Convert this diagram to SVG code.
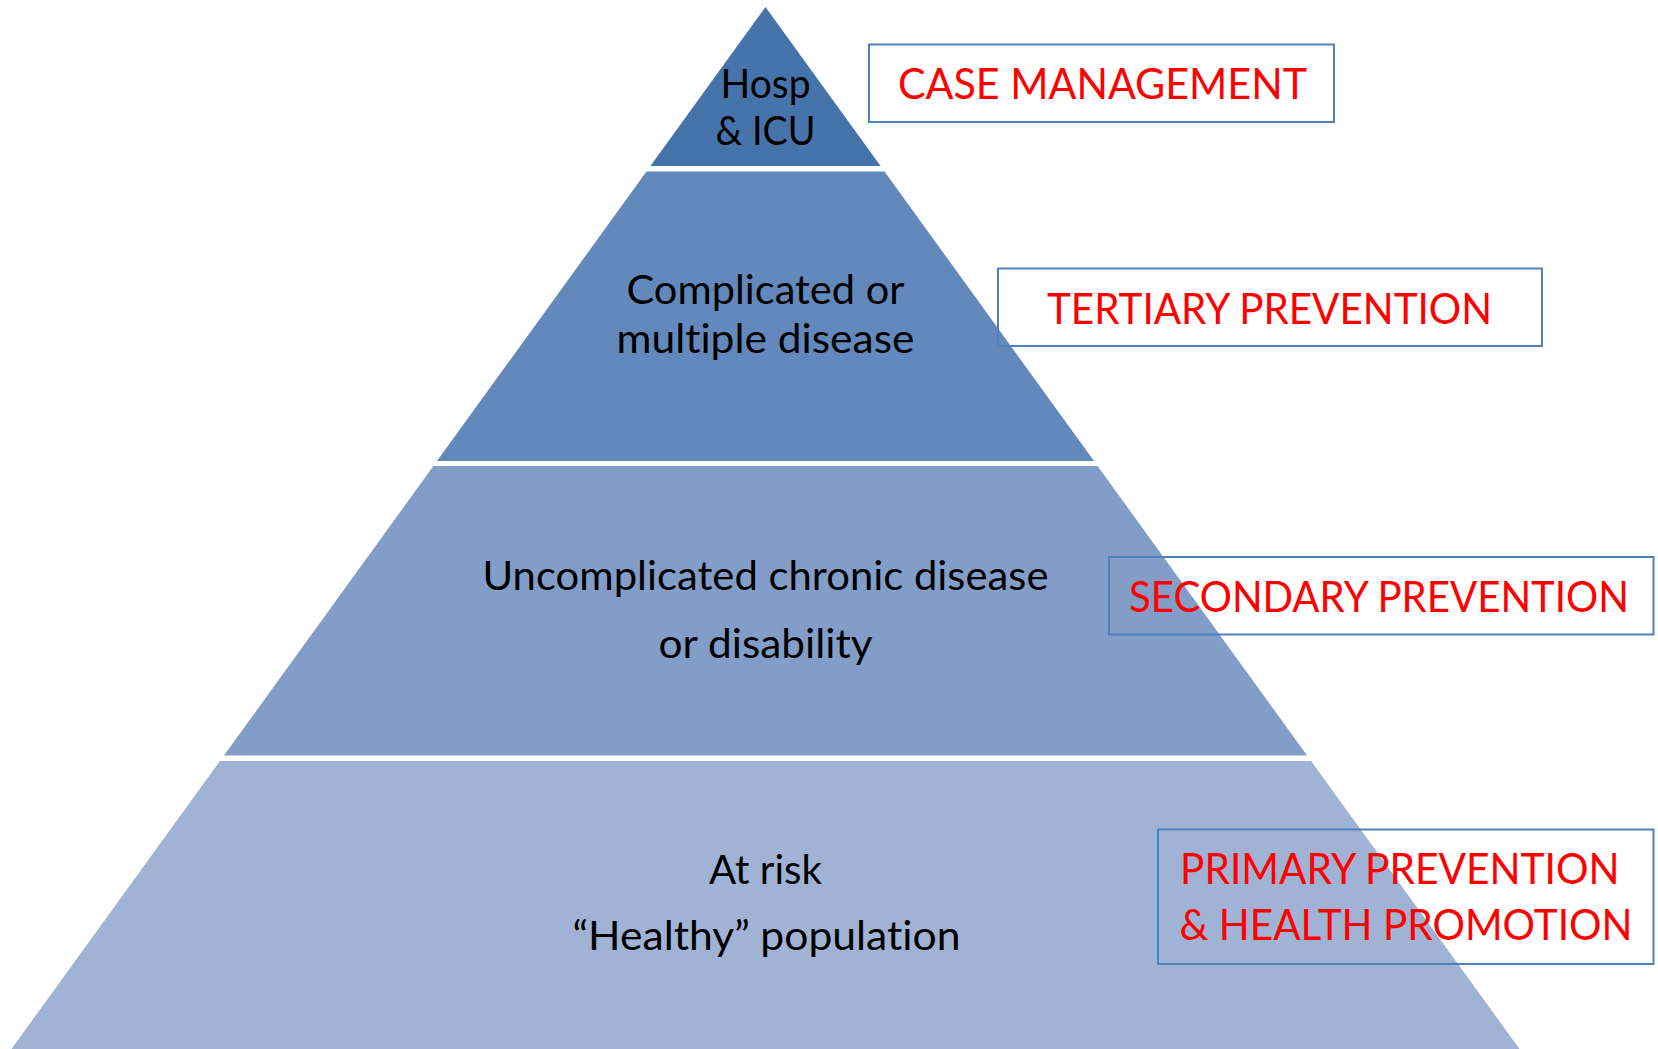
<svg xmlns="http://www.w3.org/2000/svg" width="1658" height="1049" viewBox="0 0 1658 1049">
  <style>
    text { font-variant-ligatures: none; }
    .tier-text { font-family: Lato, "Open Sans", "Liberation Sans", sans-serif; font-size: 41px; fill: #000000; text-anchor: middle; }
    .label-box { fill: none; stroke: #4F81BD; stroke-width: 2; }
    .label-text { font-family: Lato, "Open Sans", "Liberation Sans", sans-serif; font-size: 43px; fill: #FF0000; }
  </style>
  <rect x="0" y="0" width="1658" height="1049" fill="#FFFFFF"/>

  <!-- Pyramid tiers, apex at (765.5, 7), white gaps between levels -->
  <g id="tier-hosp-icu">
    <polygon points="765.5,7 880.6,166 650.4,166" fill="#4674AA"/>
    <text class="tier-text" x="765.5" y="97.5" textLength="90" lengthAdjust="spacingAndGlyphs">Hosp</text>
    <text class="tier-text" x="765.5" y="145" textLength="100" lengthAdjust="spacingAndGlyphs">&amp; ICU</text>
  </g>
  <g id="tier-complicated">
    <polygon points="646.5,171.5 884.5,171.5 1094,461 437,461" fill="#6388BB"/>
    <text class="tier-text" x="765.5" y="304" textLength="278" lengthAdjust="spacingAndGlyphs">Complicated or</text>
    <text class="tier-text" x="765.5" y="353" textLength="298" lengthAdjust="spacingAndGlyphs">multiple disease</text>
  </g>
  <g id="tier-uncomplicated">
    <polygon points="433.4,466 1097.6,466 1307.1,755.5 223.9,755.5" fill="#829DC7"/>
    <text class="tier-text" x="765.5" y="590" textLength="566" lengthAdjust="spacingAndGlyphs">Uncomplicated chronic disease</text>
    <text class="tier-text" x="765.5" y="658" textLength="214" lengthAdjust="spacingAndGlyphs">or disability</text>
  </g>
  <g id="tier-at-risk">
    <polygon points="219.9,761 1311.1,761 1521.7,1052 9.3,1052" fill="#A1B3D4"/>
    <text class="tier-text" x="765.5" y="883.5" textLength="113" lengthAdjust="spacingAndGlyphs">At risk</text>
    <text class="tier-text" x="766.5" y="950" textLength="388" lengthAdjust="spacingAndGlyphs">“Healthy” population</text>
  </g>

  <!-- Prevention level labels -->
  <g id="label-case-management">
    <rect class="label-box" x="869" y="44.5" width="465" height="77.5"/>
    <text class="label-text" x="898" y="99" textLength="409" lengthAdjust="spacingAndGlyphs">CASE MANAGEMENT</text>
  </g>
  <g id="label-tertiary">
    <rect class="label-box" x="998" y="268.5" width="544" height="77.5"/>
    <text class="label-text" x="1047" y="324" textLength="445" lengthAdjust="spacingAndGlyphs">TERTIARY PREVENTION</text>
  </g>
  <g id="label-secondary">
    <rect class="label-box" x="1109" y="557" width="544.5" height="77.5"/>
    <text class="label-text" x="1129" y="612" textLength="500" lengthAdjust="spacingAndGlyphs">SECONDARY PREVENTION</text>
  </g>
  <g id="label-primary">
    <rect class="label-box" x="1158" y="829.5" width="495.5" height="134.5"/>
    <text class="label-text" x="1180" y="883.5" textLength="439.5" lengthAdjust="spacingAndGlyphs">PRIMARY PREVENTION</text>
    <text class="label-text" x="1179.5" y="940" textLength="453" lengthAdjust="spacingAndGlyphs">&amp; HEALTH PROMOTION</text>
  </g>
</svg>
